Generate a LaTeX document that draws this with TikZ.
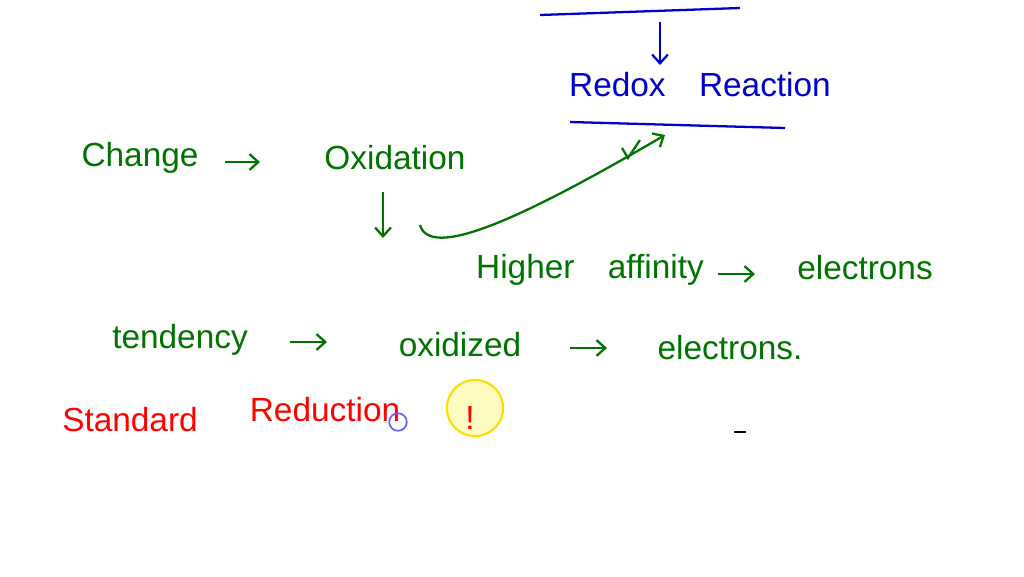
\documentclass[tikz,border=0pt]{standalone}
\usepackage{fontspec}
\setmainfont{Liberation Sans}
\usetikzlibrary{arrows.meta}
\begin{document}
\begin{tikzpicture}[x=0.02cm,y=-0.02cm,
  gtxt/.style={text=green!45!black,font=\fontsize{19}{21}\selectfont},
  btxt/.style={text=blue!80!black,font=\fontsize{19}{21}\selectfont},
  rtxt/.style={text=red,font=\fontsize{19}{21}\selectfont},
  garr/.style={draw=green!45!black,line width=1.3pt,-{Straight Barb[length=5pt,width=9pt]}},
  barr/.style={draw=blue!80!black,line width=1.3pt,-{Straight Barb[length=5pt,width=9pt]}},
  bline/.style={draw=blue!80!black,line width=1.3pt}]
\useasboundingbox (0,0) rectangle (1024,576);
\coordinate (t1) at (540,15); \coordinate (t2) at (740,8);
\draw[bline] (t1) -- (t2);
\coordinate (a1) at (660,22); \coordinate (a2) at (660,65);
\draw[barr] (a1) -- (a2);
\node[btxt] (redox) at (700,85) {Redox\quad Reaction};
\coordinate (l1) at (570,122); \coordinate (l2) at (785,128);
\draw[bline] (l1) -- (l2);
\node[gtxt] (change) at (140,158) {Change};
\node[gtxt] (ox) at (395,158) {Oxidation};
\coordinate (c1) at (225,162); \coordinate (c2) at (260,162);
\draw[garr] (c1) -- (c2);
\coordinate (d1) at (383,192); \coordinate (d2) at (383,238);
\draw[garr] (d1) -- (d2);
\coordinate (cv1) at (420,225); \coordinate (cv2) at (665,135);
\draw[garr] (cv1) .. controls (430,260) and (520,220) .. (cv2);
\coordinate (k1) at (622,148); \coordinate (k2) at (628,158); \coordinate (k3) at (640,140);
\draw[draw=green!45!black,line width=1.3pt] (k1) -- (k2) -- (k3);
\node[gtxt] (higher) at (590,270) {Higher\quad affinity};
\node[gtxt] (el1) at (865,268) {electrons};
\coordinate (h1) at (718,274); \coordinate (h2) at (755,274);
\draw[garr] (h1) -- (h2);
\node[gtxt] (tend) at (180,340) {tendency};
\node[gtxt] (oxd) at (460,345) {oxidized};
\node[gtxt] (el2) at (730,348) {electrons.};
\coordinate (p1) at (290,342); \coordinate (p2) at (327,342);
\draw[garr] (p1) -- (p2);
\coordinate (q1) at (570,348); \coordinate (q2) at (607,348);
\draw[garr] (q1) -- (q2);
\node[rtxt] (std) at (130,420) {Standard};
\node[rtxt] (red) at (325,410) {Reduction};
\node[draw=blue!60,line width=1pt,circle,minimum size=10pt,inner sep=0pt] (bc) at (398,422) {};
\node[circle,fill=yellow!40,draw=yellow!80!orange,line width=1.2pt,minimum size=32pt,fill opacity=0.6] (yc) at (475,408) {};
\node[rtxt] (ex) at (470,418) {!};
\coordinate (s1) at (734,432); \coordinate (s2) at (746,432);
\draw[line width=1pt] (s1) -- (s2);
\end{tikzpicture}
\end{document}
